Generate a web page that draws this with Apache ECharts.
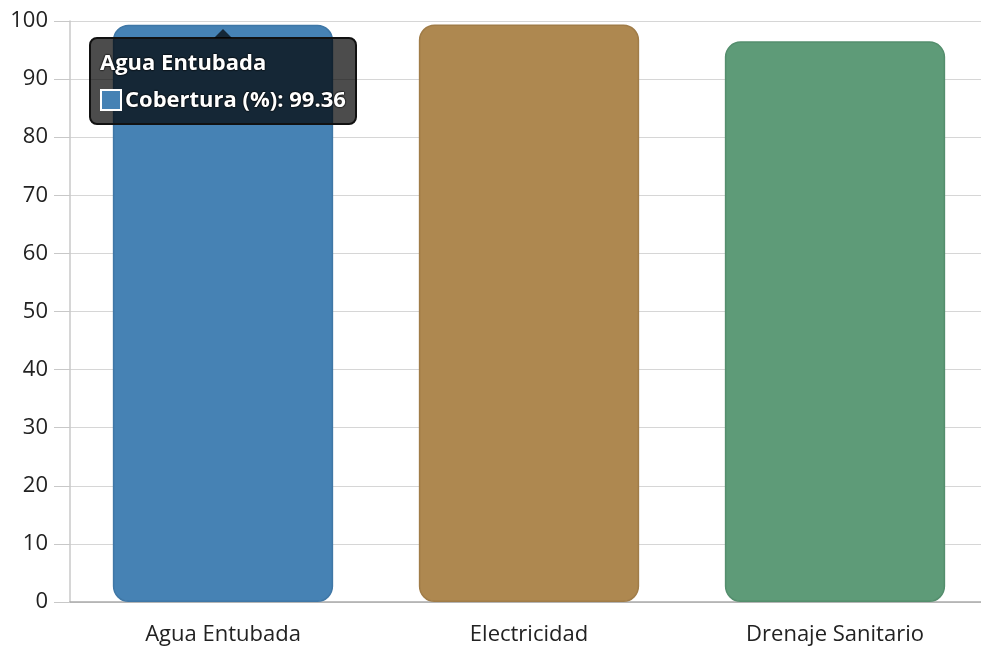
<!DOCTYPE html>
<html><head><meta charset="utf-8">
<script src="https://cdn.jsdelivr.net/npm/echarts@6/dist/echarts.min.js"></script>
<style>html,body{margin:0;padding:0;background:#fff;overflow:hidden;}#c{width:981px;height:649px;}</style>
</head><body><div id="c"></div>
<script>
const categories = ["Agua Entubada", "Electricidad", "Drenaje Sanitario"];
const coverage = [99.36, 99.4, 96.5];
const barColors = ["#4682B4", "#AE8850", "#5E9B78"];
const barBorders = ["#3f77a6", "#a07c48", "#548e6d"];
const seriesName = "Cobertura (%)";
const yTicks = [0, 10, 20, 30, 40, 50, 60, 70, 80, 90, 100];

const chart = echarts.init(document.getElementById('c'));
const FONT = '"Open Sans", "Noto Sans", sans-serif';
const CSSFONT = "'Open Sans','Noto Sans',sans-serif";
chart.setOption({
  animation: false,
  grid: {left: 70, width: 918, top: 21, bottom: 47, outerBoundsMode: 'none', containLabel: false},
  tooltip: {
    trigger: 'item',
    triggerOn: 'none',
    alwaysShowContent: true,
    transitionDuration: 0,
    backgroundColor: 'rgba(0,0,0,0.7)',
    borderColor: '#111',
    borderWidth: 2,
    borderRadius: 8,
    padding: [4, 9, 6, 9],
    extraCssText: 'box-shadow:none;overflow:visible;',
    position: function (point, params, dom, rect, size) {
      return [rect.x + rect.width / 2 - size.contentSize[0] / 2, rect.y + 12];
    },
    formatter: function (p) {
      const sh = 'text-shadow:0 0 2px #000,0 0 2px #000;';
      const st = 'color:#fff;font-weight:bold;font-family:' + CSSFONT + ';font-size:22px;line-height:37px;white-space:nowrap;' + sh;
      return '<div style="position:absolute;left:50%;top:-10px;margin-left:-9px;width:0;height:0;border-left:9px solid transparent;border-right:9px solid transparent;border-bottom:9px solid rgba(0,0,0,0.7);"></div>' +
        '<div style="' + st + '">' + p.name + '</div>' +
        '<div style="' + st + '">' +
        '<span style="display:inline-block;width:22px;height:22px;background:' + barColors[p.dataIndex] + ';border:2px solid #fff;box-sizing:border-box;vertical-align:-4px;margin-right:3px;"></span>' +
        p.seriesName + ': ' + p.value + '</div>';
    }
  },
  xAxis: {
    type: 'category',
    data: categories,
    axisLine: {lineStyle: {color: '#aaaaaa', width: 1.5}},
    axisTick: {show: false},
    axisLabel: {color: '#222', fontSize: 22, fontFamily: FONT, margin: 22}
  },
  yAxis: {
    type: 'value',
    min: 0, max: 100, interval: 10,
    axisLine: {show: true, lineStyle: {color: '#c8c8c8', width: 1.5}},
    axisTick: {show: true, length: 16, lineStyle: {color: '#c8c8c8'}},
    splitLine: {lineStyle: {color: '#d6d6d6', width: 1.2}},
    axisLabel: {color: '#222', fontSize: 22, fontFamily: FONT, margin: 22,
      formatter: function (v) { return yTicks.indexOf(v) >= 0 ? String(v) : ''; }}
  },
  series: [{
    name: seriesName,
    type: 'bar',
    barWidth: '72%',
    data: coverage.map(function (v, i) {
      return {value: v, itemStyle: {color: barColors[i], borderColor: barBorders[i], borderWidth: 1.5, borderRadius: 15}};
    }),
    emphasis: {disabled: true}
  }]
});
chart.dispatchAction({type: 'showTip', seriesIndex: 0, dataIndex: 0});
</script></body></html>
